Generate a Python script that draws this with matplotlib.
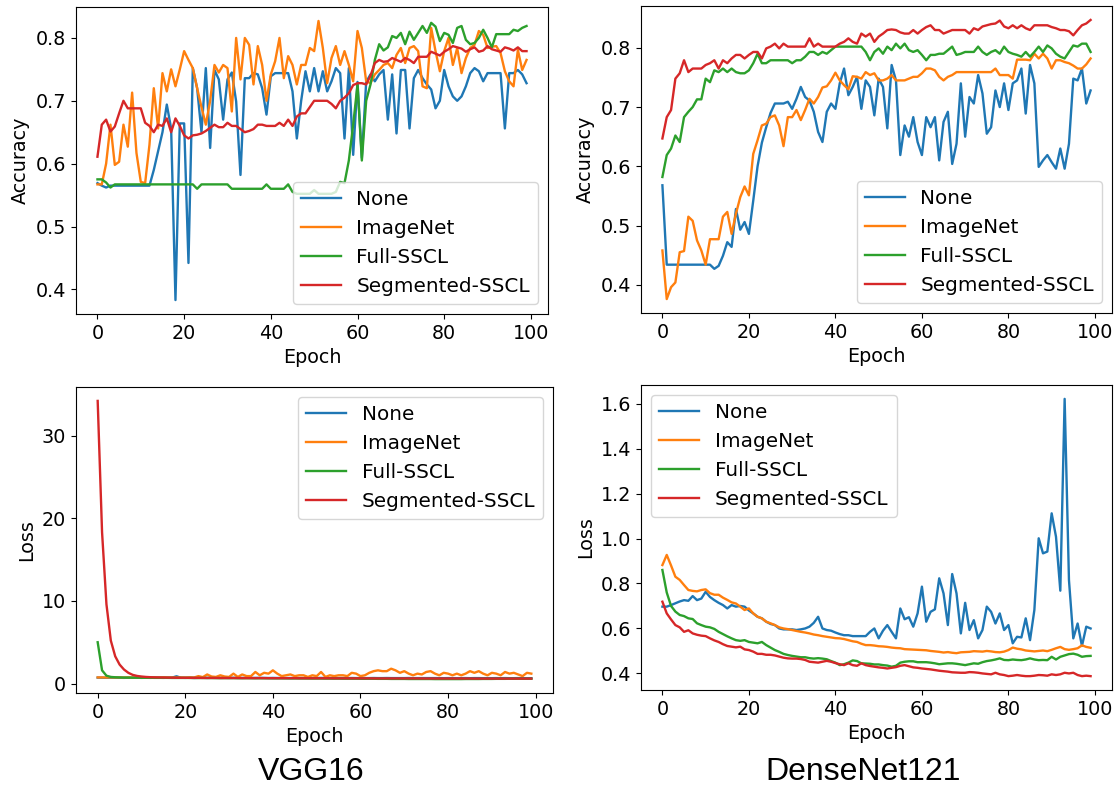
import matplotlib
matplotlib.use("Agg")
import matplotlib.pyplot as plt
import numpy as np

epochs = list(range(100))
series_names = ["None", "ImageNet", "Full-SSCL", "Segmented-SSCL"]
model_titles = ["VGG16", "DenseNet121"]

# ---------------- VGG16 accuracy ----------------
vgg_acc_none = [
    0.569, 0.565, 0.562, 0.565, 0.565, 0.565, 0.565, 0.565, 0.565, 0.565,
    0.565, 0.565, 0.565, 0.590, 0.620, 0.650, 0.694, 0.656, 0.383, 0.664,
    0.664, 0.442, 0.752, 0.720, 0.650, 0.752, 0.625, 0.749, 0.734, 0.670,
    0.734, 0.745, 0.699, 0.582, 0.736, 0.736, 0.744, 0.742, 0.720, 0.678,
    0.739, 0.744, 0.744, 0.744, 0.744, 0.715, 0.640, 0.700, 0.747, 0.715,
    0.752, 0.715, 0.747, 0.715, 0.731, 0.752, 0.744, 0.640, 0.752, 0.614,
    0.730, 0.609, 0.730, 0.742, 0.731, 0.742, 0.749, 0.670, 0.742, 0.648,
    0.749, 0.749, 0.656, 0.736, 0.749, 0.736, 0.726, 0.718, 0.688, 0.700,
    0.749, 0.723, 0.707, 0.700, 0.707, 0.723, 0.744, 0.752, 0.747, 0.731,
    0.744, 0.744, 0.744, 0.744, 0.656, 0.744, 0.744, 0.749, 0.742, 0.728]
vgg_acc_imagenet = [
    0.567, 0.567, 0.600, 0.662, 0.598, 0.603, 0.662, 0.627, 0.713, 0.617,
    0.571, 0.569, 0.630, 0.720, 0.656, 0.744, 0.715, 0.750, 0.723, 0.750,
    0.779, 0.765, 0.752, 0.720, 0.690, 0.662, 0.700, 0.757, 0.745, 0.757,
    0.752, 0.683, 0.800, 0.734, 0.800, 0.789, 0.726, 0.787, 0.757, 0.700,
    0.742, 0.763, 0.800, 0.736, 0.771, 0.757, 0.726, 0.757, 0.757, 0.784,
    0.779, 0.827, 0.784, 0.728, 0.768, 0.787, 0.757, 0.779, 0.757, 0.731,
    0.811, 0.784, 0.731, 0.728, 0.742, 0.749, 0.757, 0.760, 0.752, 0.773,
    0.784, 0.760, 0.784, 0.787, 0.779, 0.723, 0.720, 0.816, 0.779, 0.747,
    0.779, 0.800, 0.757, 0.784, 0.744, 0.768, 0.784, 0.789, 0.811, 0.805,
    0.784, 0.786, 0.787, 0.776, 0.747, 0.731, 0.723, 0.781, 0.749, 0.765]
vgg_acc_full = [
    0.575, 0.575, 0.570, 0.562, 0.567, 0.567, 0.567, 0.567, 0.567, 0.567,
    0.567, 0.567, 0.567, 0.567, 0.567, 0.567, 0.567, 0.567, 0.567, 0.567,
    0.567, 0.567, 0.567, 0.560, 0.567, 0.567, 0.567, 0.567, 0.567, 0.567,
    0.567, 0.560, 0.560, 0.560, 0.560, 0.560, 0.560, 0.560, 0.560, 0.567,
    0.560, 0.560, 0.560, 0.560, 0.567, 0.555, 0.552, 0.552, 0.552, 0.552,
    0.558, 0.552, 0.552, 0.552, 0.552, 0.555, 0.571, 0.569, 0.605, 0.662,
    0.726, 0.605, 0.700, 0.726, 0.765, 0.790, 0.780, 0.785, 0.803, 0.800,
    0.808, 0.790, 0.810, 0.797, 0.808, 0.819, 0.808, 0.824, 0.818, 0.795,
    0.808, 0.805, 0.792, 0.816, 0.819, 0.797, 0.790, 0.792, 0.800, 0.813,
    0.800, 0.785, 0.806, 0.806, 0.806, 0.806, 0.813, 0.811, 0.816, 0.819]
vgg_acc_seg = [
    0.611, 0.662, 0.670, 0.651, 0.659, 0.680, 0.700, 0.688, 0.688, 0.688,
    0.688, 0.665, 0.660, 0.650, 0.662, 0.660, 0.672, 0.650, 0.672, 0.660,
    0.645, 0.640, 0.645, 0.646, 0.648, 0.652, 0.657, 0.662, 0.658, 0.658,
    0.665, 0.660, 0.660, 0.655, 0.650, 0.652, 0.655, 0.662, 0.662, 0.660,
    0.660, 0.660, 0.665, 0.660, 0.670, 0.660, 0.675, 0.680, 0.680, 0.690,
    0.700, 0.700, 0.700, 0.700, 0.695, 0.688, 0.700, 0.705, 0.712, 0.725,
    0.728, 0.728, 0.726, 0.740, 0.760, 0.765, 0.762, 0.763, 0.768, 0.765,
    0.762, 0.768, 0.765, 0.760, 0.770, 0.770, 0.770, 0.778, 0.775, 0.772,
    0.778, 0.782, 0.787, 0.785, 0.783, 0.778, 0.782, 0.785, 0.778, 0.780,
    0.787, 0.782, 0.780, 0.778, 0.785, 0.783, 0.780, 0.785, 0.779, 0.779]

# ---------------- DenseNet121 accuracy ----------------
dn_acc_none = [
    0.568, 0.434, 0.434, 0.434, 0.434, 0.434, 0.434, 0.434, 0.434, 0.434,
    0.434, 0.434, 0.427, 0.432, 0.449, 0.472, 0.464, 0.528, 0.493, 0.506,
    0.486, 0.542, 0.600, 0.640, 0.666, 0.690, 0.706, 0.706, 0.706, 0.709,
    0.697, 0.714, 0.734, 0.717, 0.711, 0.692, 0.658, 0.641, 0.692, 0.706,
    0.697, 0.740, 0.765, 0.720, 0.734, 0.751, 0.697, 0.745, 0.734, 0.686,
    0.748, 0.734, 0.664, 0.771, 0.745, 0.619, 0.669, 0.650, 0.683, 0.641,
    0.619, 0.683, 0.666, 0.683, 0.610, 0.675, 0.692, 0.604, 0.638, 0.740,
    0.650, 0.717, 0.706, 0.754, 0.723, 0.655, 0.666, 0.728, 0.700, 0.740,
    0.695, 0.740, 0.745, 0.765, 0.689, 0.771, 0.740, 0.599, 0.610, 0.619,
    0.607, 0.596, 0.630, 0.596, 0.638, 0.748, 0.745, 0.765, 0.706, 0.728]
dn_acc_imagenet = [
    0.458, 0.376, 0.396, 0.404, 0.455, 0.457, 0.515, 0.508, 0.475, 0.458,
    0.434, 0.477, 0.477, 0.477, 0.515, 0.523, 0.486, 0.520, 0.548, 0.566,
    0.551, 0.621, 0.644, 0.669, 0.672, 0.683, 0.686, 0.669, 0.634, 0.683,
    0.683, 0.695, 0.678, 0.695, 0.714, 0.706, 0.717, 0.733, 0.735, 0.745,
    0.758, 0.745, 0.737, 0.730, 0.752, 0.751, 0.748, 0.759, 0.754, 0.757,
    0.745, 0.745, 0.748, 0.754, 0.745, 0.745, 0.745, 0.748, 0.751, 0.751,
    0.757, 0.765, 0.765, 0.762, 0.751, 0.745, 0.751, 0.754, 0.759, 0.759,
    0.759, 0.759, 0.759, 0.759, 0.759, 0.759, 0.759, 0.765, 0.754, 0.754,
    0.754, 0.748, 0.780, 0.780, 0.780, 0.779, 0.790, 0.782, 0.790, 0.782,
    0.765, 0.779, 0.779, 0.776, 0.774, 0.770, 0.765, 0.765, 0.772, 0.782]
dn_acc_full = [
    0.582, 0.619, 0.630, 0.652, 0.641, 0.683, 0.692, 0.700, 0.713, 0.713,
    0.748, 0.742, 0.762, 0.759, 0.765, 0.759, 0.765, 0.759, 0.757, 0.757,
    0.762, 0.774, 0.790, 0.774, 0.774, 0.779, 0.779, 0.779, 0.779, 0.779,
    0.774, 0.779, 0.779, 0.785, 0.793, 0.793, 0.788, 0.793, 0.790, 0.796,
    0.802, 0.802, 0.802, 0.802, 0.802, 0.802, 0.802, 0.793, 0.779, 0.793,
    0.799, 0.790, 0.802, 0.796, 0.807, 0.799, 0.807, 0.796, 0.793, 0.796,
    0.788, 0.779, 0.788, 0.788, 0.790, 0.790, 0.796, 0.802, 0.788, 0.790,
    0.793, 0.793, 0.793, 0.802, 0.793, 0.788, 0.793, 0.796, 0.790, 0.802,
    0.793, 0.790, 0.788, 0.785, 0.793, 0.785, 0.793, 0.802, 0.793, 0.804,
    0.799, 0.790, 0.785, 0.782, 0.793, 0.804, 0.802, 0.807, 0.807, 0.793]
dn_acc_seg = [
    0.647, 0.683, 0.695, 0.748, 0.757, 0.779, 0.759, 0.765, 0.765, 0.765,
    0.771, 0.774, 0.779, 0.765, 0.779, 0.774, 0.782, 0.788, 0.788, 0.782,
    0.788, 0.793, 0.793, 0.782, 0.799, 0.802, 0.807, 0.799, 0.807, 0.802,
    0.802, 0.802, 0.802, 0.802, 0.816, 0.802, 0.807, 0.802, 0.802, 0.802,
    0.802, 0.807, 0.810, 0.816, 0.810, 0.807, 0.824, 0.819, 0.824, 0.810,
    0.819, 0.824, 0.830, 0.831, 0.830, 0.826, 0.824, 0.824, 0.830, 0.824,
    0.830, 0.835, 0.838, 0.830, 0.830, 0.824, 0.827, 0.830, 0.830, 0.830,
    0.830, 0.824, 0.833, 0.830, 0.836, 0.838, 0.840, 0.841, 0.846, 0.836,
    0.833, 0.838, 0.833, 0.838, 0.833, 0.830, 0.838, 0.838, 0.838, 0.838,
    0.835, 0.833, 0.830, 0.830, 0.828, 0.821, 0.830, 0.838, 0.841, 0.847]

# ---------------- VGG16 loss ----------------
vgg_loss_none = [
    0.72, 0.71, 0.70, 0.70, 0.70, 0.70, 0.69, 0.70, 0.70, 0.70,
    0.69, 0.70, 0.69, 0.70, 0.70, 0.69, 0.70, 0.72, 0.88, 0.70,
    0.69, 0.70, 0.68, 0.69, 0.70, 0.68, 0.69, 0.69, 0.68, 0.69,
    0.68, 0.69, 0.68, 0.68, 0.69, 0.68, 0.68, 0.69, 0.68, 0.67,
    0.68, 0.67, 0.68, 0.67, 0.67, 0.68, 0.67, 0.67, 0.68, 0.67,
    0.67, 0.68, 0.67, 0.67, 0.66, 0.67, 0.67, 0.66, 0.67, 0.66,
    0.67, 0.66, 0.66, 0.67, 0.66, 0.66, 0.67, 0.66, 0.66, 0.66,
    0.66, 0.67, 0.66, 0.66, 0.66, 0.66, 0.66, 0.66, 0.66, 0.65,
    0.66, 0.66, 0.65, 0.66, 0.66, 0.65, 0.66, 0.66, 0.65, 0.66,
    0.65, 0.66, 0.65, 0.66, 0.65, 0.65, 0.66, 0.65, 0.65, 0.65]
vgg_loss_imagenet = [
    0.74, 0.74, 0.73, 0.74, 0.73, 0.74, 0.73, 0.74, 0.73, 0.74,
    0.73, 0.72, 0.74, 0.73, 0.72, 0.75, 0.73, 0.72, 0.74, 0.73,
    0.72, 0.75, 0.73, 0.90, 0.78, 1.10, 0.85, 0.80, 1.00, 0.85,
    0.80, 1.20, 0.80, 1.10, 0.90, 0.90, 1.40, 1.00, 1.30, 1.20,
    1.60, 1.20, 0.90, 1.00, 1.10, 0.90, 1.00, 1.00, 0.80, 1.00,
    0.90, 1.40, 0.80, 1.00, 0.90, 1.00, 1.00, 0.90, 1.30, 1.20,
    0.90, 1.00, 1.30, 1.50, 1.60, 1.50, 1.50, 1.80, 1.60, 1.30,
    1.50, 1.20, 1.00, 1.20, 1.10, 1.40, 1.50, 1.20, 1.00, 1.30,
    1.20, 1.00, 1.20, 1.00, 1.20, 1.50, 1.30, 1.50, 1.20, 1.00,
    1.30, 1.20, 1.00, 1.40, 1.20, 1.30, 1.10, 0.90, 1.30, 1.20]
vgg_loss_full = [
    5.00, 1.60, 0.95, 0.80, 0.76, 0.74, 0.72, 0.72, 0.71, 0.71,
    0.70, 0.70, 0.70, 0.69, 0.69, 0.69, 0.69, 0.68, 0.68, 0.68,
    0.68, 0.68, 0.67, 0.67, 0.67, 0.67, 0.67, 0.66, 0.66, 0.66,
    0.66, 0.66, 0.65, 0.65, 0.65, 0.65, 0.64, 0.64, 0.64, 0.64,
    0.63, 0.63, 0.63, 0.63, 0.62, 0.62, 0.62, 0.62, 0.61, 0.61,
    0.61, 0.61, 0.60, 0.60, 0.60, 0.60, 0.59, 0.59, 0.59, 0.59,
    0.58, 0.58, 0.58, 0.58, 0.57, 0.57, 0.57, 0.56, 0.56, 0.56,
    0.56, 0.55, 0.55, 0.55, 0.55, 0.55, 0.55, 0.54, 0.54, 0.54,
    0.54, 0.54, 0.54, 0.54, 0.55, 0.55, 0.55, 0.55, 0.56, 0.56,
    0.56, 0.57, 0.57, 0.57, 0.58, 0.58, 0.58, 0.58, 0.58, 0.58]
vgg_loss_seg = [
    34.2, 18.3, 9.60, 5.20, 3.30, 2.30, 1.70, 1.30, 1.05, 0.92,
    0.85, 0.80, 0.77, 0.75, 0.74, 0.73, 0.72, 0.71, 0.70, 0.70,
    0.70, 0.69, 0.69, 0.69, 0.68, 0.68, 0.68, 0.68, 0.67, 0.67,
    0.67, 0.67, 0.67, 0.66, 0.66, 0.66, 0.66, 0.66, 0.66, 0.65,
    0.65, 0.65, 0.65, 0.65, 0.65, 0.65, 0.64, 0.64, 0.64, 0.64,
    0.64, 0.64, 0.64, 0.64, 0.63, 0.63, 0.63, 0.63, 0.63, 0.63,
    0.63, 0.63, 0.63, 0.62, 0.62, 0.62, 0.62, 0.62, 0.62, 0.62,
    0.62, 0.62, 0.62, 0.62, 0.61, 0.61, 0.61, 0.61, 0.61, 0.61,
    0.61, 0.61, 0.61, 0.61, 0.61, 0.61, 0.60, 0.60, 0.60, 0.60,
    0.60, 0.60, 0.60, 0.60, 0.60, 0.60, 0.60, 0.60, 0.60, 0.60]

# ---------------- DenseNet121 loss ----------------
dn_loss_none = [
    0.697, 0.697, 0.704, 0.712, 0.720, 0.726, 0.723, 0.744, 0.726, 0.733,
    0.763, 0.740, 0.726, 0.714, 0.704, 0.689, 0.704, 0.697, 0.700, 0.697,
    0.680, 0.667, 0.652, 0.645, 0.630, 0.620, 0.615, 0.600, 0.596, 0.596,
    0.596, 0.593, 0.596, 0.600, 0.608, 0.625, 0.652, 0.600, 0.593, 0.590,
    0.582, 0.575, 0.570, 0.570, 0.566, 0.566, 0.566, 0.566, 0.585, 0.600,
    0.556, 0.590, 0.615, 0.585, 0.556, 0.689, 0.641, 0.650, 0.608, 0.667,
    0.786, 0.630, 0.674, 0.685, 0.823, 0.756, 0.615, 0.842, 0.756, 0.578,
    0.714, 0.593, 0.637, 0.556, 0.593, 0.697, 0.674, 0.622, 0.667, 0.593,
    0.615, 0.534, 0.563, 0.560, 0.645, 0.548, 0.682, 1.001, 0.934, 0.942,
    1.112, 1.008, 0.768, 1.621, 0.815, 0.556, 0.622, 0.522, 0.608, 0.600]
dn_loss_imagenet = [
    0.882, 0.927, 0.880, 0.830, 0.816, 0.793, 0.771, 0.767, 0.765, 0.771,
    0.774, 0.757, 0.750, 0.750, 0.737, 0.727, 0.716, 0.711, 0.697, 0.682,
    0.689, 0.667, 0.652, 0.645, 0.630, 0.623, 0.615, 0.605, 0.600, 0.597,
    0.593, 0.589, 0.585, 0.582, 0.578, 0.573, 0.570, 0.566, 0.563, 0.560,
    0.557, 0.556, 0.553, 0.548, 0.543, 0.540, 0.532, 0.526, 0.526, 0.524,
    0.521, 0.520, 0.518, 0.515, 0.513, 0.512, 0.508, 0.507, 0.506, 0.505,
    0.504, 0.503, 0.500, 0.498, 0.496, 0.493, 0.495, 0.492, 0.490, 0.494,
    0.495, 0.496, 0.499, 0.498, 0.497, 0.500, 0.498, 0.495, 0.494, 0.497,
    0.504, 0.515, 0.510, 0.507, 0.502, 0.500, 0.498, 0.500, 0.502, 0.499,
    0.505, 0.512, 0.518, 0.508, 0.505, 0.508, 0.512, 0.525, 0.518, 0.514]
dn_loss_full = [
    0.860, 0.760, 0.700, 0.675, 0.660, 0.655, 0.645, 0.642, 0.623, 0.615,
    0.608, 0.605, 0.598, 0.585, 0.575, 0.565, 0.556, 0.548, 0.545, 0.548,
    0.540, 0.537, 0.534, 0.540, 0.526, 0.515, 0.504, 0.496, 0.487, 0.482,
    0.478, 0.475, 0.472, 0.472, 0.468, 0.466, 0.468, 0.466, 0.463, 0.455,
    0.448, 0.437, 0.441, 0.448, 0.458, 0.455, 0.445, 0.444, 0.443, 0.440,
    0.440, 0.437, 0.435, 0.430, 0.434, 0.448, 0.452, 0.454, 0.454, 0.450,
    0.450, 0.450, 0.448, 0.445, 0.441, 0.443, 0.445, 0.445, 0.443, 0.440,
    0.437, 0.441, 0.445, 0.443, 0.450, 0.455, 0.458, 0.462, 0.467, 0.460,
    0.459, 0.462, 0.460, 0.459, 0.462, 0.467, 0.462, 0.459, 0.460, 0.459,
    0.474, 0.462, 0.474, 0.480, 0.486, 0.488, 0.483, 0.474, 0.477, 0.478]
dn_loss_seg = [
    0.719, 0.667, 0.640, 0.615, 0.605, 0.585, 0.592, 0.578, 0.572, 0.568,
    0.566, 0.556, 0.547, 0.540, 0.530, 0.522, 0.519, 0.516, 0.519, 0.507,
    0.504, 0.497, 0.487, 0.487, 0.483, 0.483, 0.480, 0.475, 0.470, 0.467,
    0.466, 0.466, 0.464, 0.460, 0.452, 0.450, 0.448, 0.452, 0.456, 0.452,
    0.446, 0.441, 0.437, 0.445, 0.437, 0.434, 0.445, 0.437, 0.433, 0.430,
    0.427, 0.425, 0.422, 0.425, 0.428, 0.434, 0.437, 0.432, 0.427, 0.425,
    0.422, 0.420, 0.418, 0.415, 0.412, 0.410, 0.408, 0.405, 0.404, 0.403,
    0.403, 0.406, 0.405, 0.403, 0.400, 0.398, 0.396, 0.403, 0.396, 0.393,
    0.388, 0.390, 0.393, 0.390, 0.388, 0.388, 0.390, 0.393, 0.392, 0.390,
    0.396, 0.393, 0.396, 0.403, 0.400, 0.403, 0.393, 0.388, 0.390, 0.388]

colors = ["#1f77b4", "#ff7f0e", "#2ca02c", "#d62728"]
plt.rcParams["font.family"] = ["DejaVu Sans"]
plt.rcParams["font.size"] = 13.8
plt.rcParams["legend.fontsize"] = 14.4

W, H = 1115, 793
fig = plt.figure(figsize=(W / 100, H / 100), dpi=100)


def add_axes(left, top, right, bottom):
    return fig.add_axes([left / W, 1 - bottom / H, (right - left) / W, (bottom - top) / H])


panels = [
    (add_axes(76, 7, 548, 314), [vgg_acc_none, vgg_acc_imagenet, vgg_acc_full, vgg_acc_seg], "Accuracy", "lower right", None),
    (add_axes(641, 6, 1112, 313), [dn_acc_none, dn_acc_imagenet, dn_acc_full, dn_acc_seg], "Accuracy", "lower right", None),
    (add_axes(76, 387, 553, 693), [vgg_loss_none, vgg_loss_imagenet, vgg_loss_full, vgg_loss_seg], "Loss", "upper right", [0, 10, 20, 30]),
    (add_axes(641, 385, 1112, 690), [dn_loss_none, dn_loss_imagenet, dn_loss_full, dn_loss_seg], "Loss", "upper left", None),
]

for ax, data, ylab, loc, yt in panels:
    for name, vals, c in zip(series_names, data, colors):
        ax.plot(epochs, vals, color=c, lw=1.7, label=name)
    ax.set_xlabel("Epoch")
    ax.set_ylabel(ylab)
    ax.set_xticks([0, 20, 40, 60, 80, 100])
    if yt is not None:
        ax.set_yticks(yt)
    ax.legend(loc=loc)

fig.text(311 / W, 1 - 772 / H, model_titles[0], ha="center", va="center",
         fontsize=23, family=["Liberation Sans", "DejaVu Sans"])
fig.text(863 / W, 1 - 772 / H, model_titles[1], ha="center", va="center",
         fontsize=23, family=["Liberation Sans", "DejaVu Sans"])

fig.savefig("out.png", dpi=100)
